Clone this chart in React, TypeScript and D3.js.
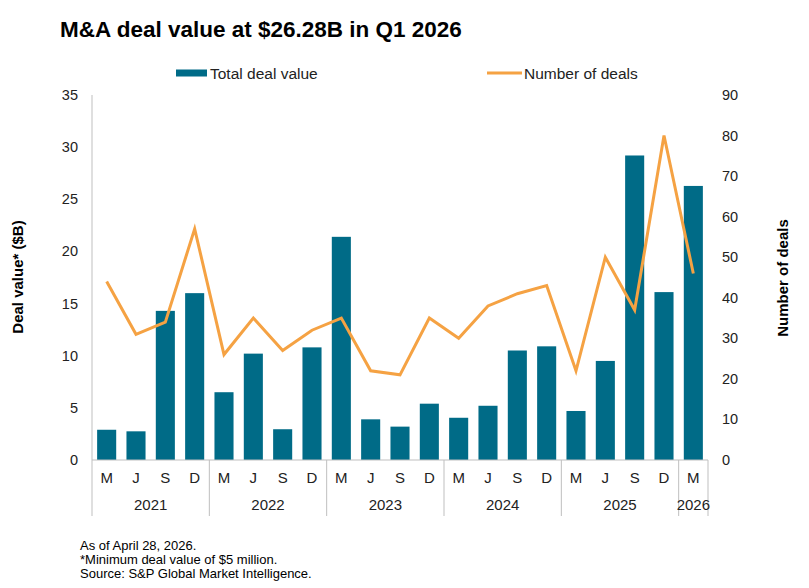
import { useEffect, useRef } from 'react';
import * as d3 from 'd3';

// Quarter-end months, one entry per quarter
const quarters = ['M', 'J', 'S', 'D', 'M', 'J', 'S', 'D', 'M', 'J', 'S', 'D', 'M', 'J', 'S', 'D', 'M', 'J', 'S', 'D', 'M'];
const years = ['2021', '2022', '2023', '2024', '2025', '2026'];
const quartersPerYear = [4, 4, 4, 4, 4, 1];

// Total deal value ($B)
const dealValue = [2.9, 2.75, 14.3, 16.0, 6.5, 10.2, 2.95, 10.8, 21.4, 3.9, 3.2, 5.4, 4.05, 5.2, 10.5, 10.9, 4.7, 9.5, 29.2, 16.1, 26.28];
// Number of deals
const dealCount = [44, 31, 34, 57, 26, 35, 27, 32, 35, 22, 21, 35, 30, 38, 41, 43, 22, 50, 37, 80, 46];

const leftTicks = [0, 5, 10, 15, 20, 25, 30, 35];
const rightTicks = [0, 10, 20, 30, 40, 50, 60, 70, 80, 90];

const BAR = '#006B87';
const LINE = '#F5A243';
const FONT = 'Arial, "Liberation Sans", sans-serif';

export default function App() {
  const ref = useRef<SVGSVGElement>(null);

  useEffect(() => {
    const svg = d3.select(ref.current);
    svg.selectAll('*').remove();

    const left = 92, right = 708, top = 95, bottom = 460;

    const x = d3.scaleBand<number>()
      .domain(d3.range(quarters.length))
      .range([left, right])
      .paddingInner(0.35)
      .paddingOuter(0.175);
    const step = x.step();
    const y = d3.scaleLinear().domain([0, 35]).range([bottom, top]);
    const y2 = d3.scaleLinear().domain([0, 90]).range([bottom, top]);

    // Title
    svg.append('text')
      .attr('x', 60).attr('y', 37)
      .attr('font-size', 22.5).attr('font-weight', 'bold')
      .attr('fill', '#000')
      .text('M&A deal value at $26.28B in Q1 2026');

    // Legend
    const legend = svg.append('g').attr('font-size', 15.5).attr('fill', '#222');
    legend.append('rect').attr('x', 176).attr('y', 69.5).attr('width', 31).attr('height', 7).attr('fill', BAR);
    legend.append('text').attr('x', 210).attr('y', 78.5).text('Total deal value');
    legend.append('line').attr('x1', 487).attr('x2', 522).attr('y1', 73).attr('y2', 73)
      .attr('stroke', LINE).attr('stroke-width', 3);
    legend.append('text').attr('x', 524).attr('y', 78.5).text('Number of deals');

    // Left axis
    svg.append('line')
      .attr('x1', left).attr('x2', left).attr('y1', top).attr('y2', bottom)
      .attr('stroke', '#bfbfbf');
    svg.append('g').selectAll('text').data(leftTicks).join('text')
      .attr('x', 78).attr('y', d => y(d) + 5)
      .attr('text-anchor', 'end').attr('font-size', 14.5).attr('fill', '#222')
      .text(d => d);

    // Right axis labels
    svg.append('g').selectAll('text').data(rightTicks).join('text')
      .attr('x', 722).attr('y', d => y2(d) + 5)
      .attr('font-size', 14.5).attr('fill', '#222')
      .text(d => d);

    // Axis titles
    svg.append('text')
      .attr('transform', 'translate(23,277) rotate(-90)')
      .attr('text-anchor', 'middle').attr('font-size', 15).attr('font-weight', 'bold')
      .text('Deal value* ($B)');
    svg.append('text')
      .attr('transform', 'translate(788,278) rotate(-90)')
      .attr('text-anchor', 'middle').attr('font-size', 15).attr('font-weight', 'bold')
      .text('Number of deals');

    // Bars
    svg.append('g').selectAll('rect').data(dealValue).join('rect')
      .attr('x', (_, i) => x(i)!)
      .attr('y', d => y(d))
      .attr('width', x.bandwidth())
      .attr('height', d => bottom - y(d))
      .attr('fill', BAR);

    // Bottom axis and year separators
    svg.append('line')
      .attr('x1', left).attr('x2', right).attr('y1', bottom).attr('y2', bottom)
      .attr('stroke', '#bfbfbf');
    const bounds = [0, ...d3.cumsum(quartersPerYear)];
    svg.append('g').selectAll('line').data(bounds).join('line')
      .attr('x1', d => left + d * step).attr('x2', d => left + d * step)
      .attr('y1', bottom).attr('y2', 516)
      .attr('stroke', '#bfbfbf');

    svg.append('g').selectAll('text').data(quarters).join('text')
      .attr('x', (_, i) => x(i)! + x.bandwidth() / 2)
      .attr('y', 483)
      .attr('text-anchor', 'middle').attr('font-size', 15).attr('fill', '#222')
      .text(d => d);

    svg.append('g').selectAll('text').data(years).join('text')
      .attr('x', (_, i) => left + ((bounds[i] + bounds[i + 1]) / 2) * step)
      .attr('y', 510)
      .attr('text-anchor', 'middle').attr('font-size', 15).attr('fill', '#222')
      .text(d => d);

    // Deal count line
    const line = d3.line<number>()
      .x((_, i) => x(i)! + x.bandwidth() / 2)
      .y(d => y2(d));
    svg.append('path')
      .datum(dealCount)
      .attr('d', line)
      .attr('fill', 'none')
      .attr('stroke', LINE)
      .attr('stroke-width', 3)
      .attr('stroke-linejoin', 'miter');

    // Footnotes
    const notes = ['As of April 28, 2026.', '*Minimum deal value of $5 million.', 'Source: S&P Global Market Intelligence.'];
    svg.append('g').selectAll('text').data(notes).join('text')
      .attr('x', 80).attr('y', (_, i) => 550 + i * 14)
      .attr('font-size', 13).attr('fill', '#000')
      .text(d => d);
  }, []);

  return (
    <svg
      ref={ref}
      width={809}
      height={588}
      style={{ display: 'block', position: 'absolute', left: 0, top: 0, background: '#fff', fontFamily: FONT }}
    />
  );
}
